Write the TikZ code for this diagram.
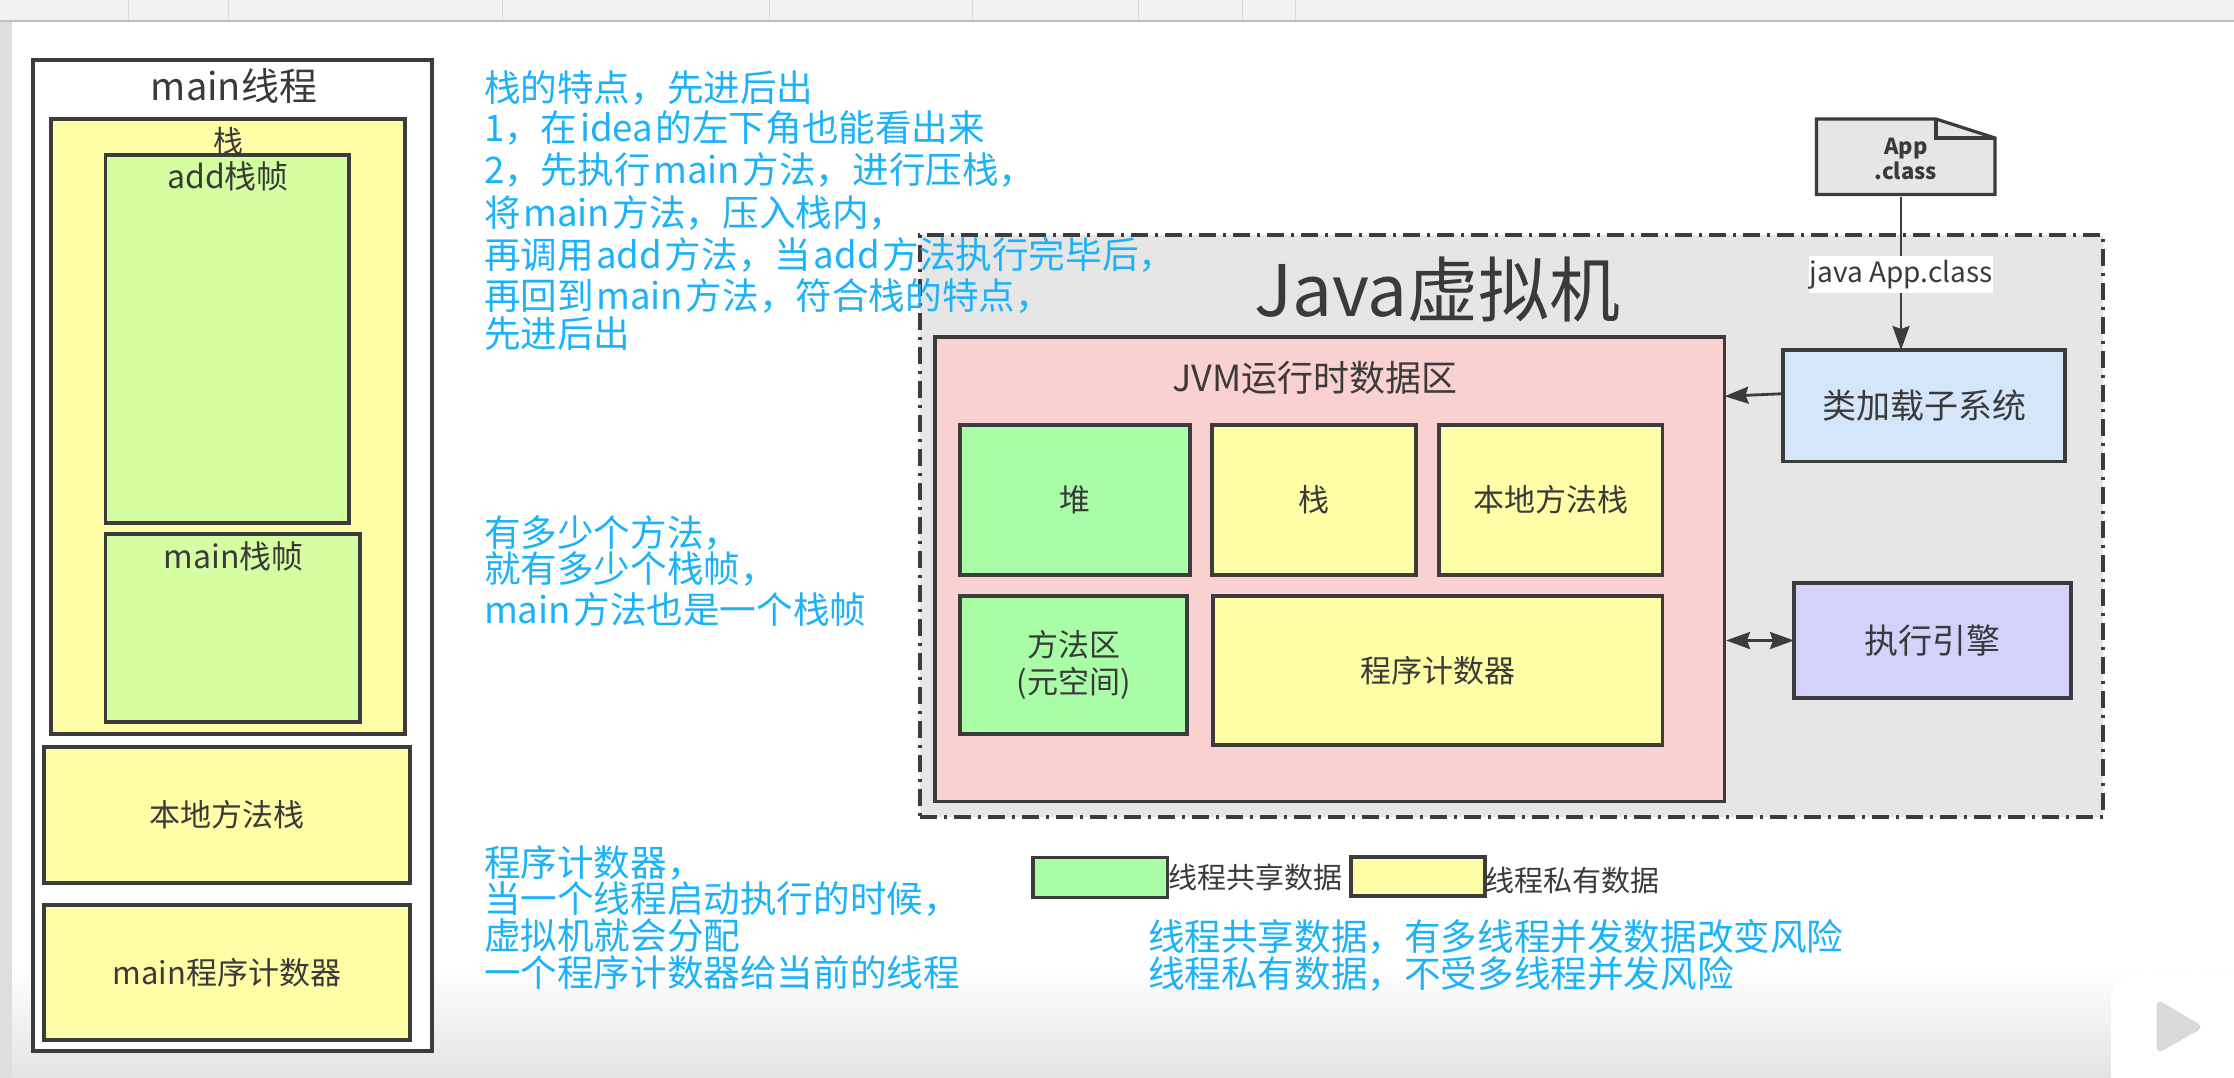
\documentclass[tikz,border=0pt]{standalone}
\usepackage{fontspec}
\setmainfont{Noto Sans CJK SC}
\usetikzlibrary{arrows.meta}
\definecolor{blueink}{HTML}{1CB2FA}
\definecolor{darkline}{HTML}{3C3C3C}
\definecolor{darktext}{HTML}{3A3A3A}
\definecolor{yellowfill}{HTML}{FFFDA6}
\definecolor{greenfill}{HTML}{A9FDA6}
\definecolor{limefill}{HTML}{D5FEA2}
\definecolor{redfill}{HTML}{F9D1D0}
\definecolor{greyfill}{HTML}{E6E6E6}
\definecolor{bluefill}{HTML}{D5E6FB}
\definecolor{purplefill}{HTML}{D2D2FA}
\definecolor{barfill}{HTML}{F2F2F2}
\newcommand{\mybox}[7]{%
  \pgfmathsetmacro\myw{#4-#2}\pgfmathsetmacro\myh{#5-#3}%
  \pgfmathsetmacro\mycx{(#2+#4)/2}\pgfmathsetmacro\mycy{(#3+#5)/2}%
  \node[#6,minimum width=\myw pt,minimum height=\myh pt] (#1) at (\mycx,\mycy) {#7};}
\tikzset{
  fs/.style={font=\fontsize{#1pt}{#1pt}\selectfont},
  boxed/.style={draw=darkline,line width=3.4pt,inner sep=0pt,outer sep=0pt,text=darktext,align=center},
  yel/.style={boxed,fill=yellowfill,fs=31},
  grn/.style={boxed,fill=greenfill,fs=31},
  lbl/.style={inner sep=0pt,outer sep=0pt,text=darktext},
  note/.style={inner sep=0pt,outer sep=0pt,anchor=west,text=blueink,fs=36.6},
  conn/.style={draw=darkline,line width=2.8pt},
}
\newcommand{\gapp}{\hspace{.07em}}
\begin{document}
\begin{tikzpicture}[x=1pt,y=-1pt]
\useasboundingbox (0,0) rectangle (2234,1078);
% window chrome
\fill[white] (0,0) rectangle (2234,1078);
\shade[top color=white,bottom color=black!11] (0,965) rectangle (2234,1078);
\fill[barfill] (0,0) rectangle (2234,20);
\draw[black!25,line width=2pt] (0,21) -- (2234,21);
\fill[black!13] (0,22) rectangle (12,1078);
\foreach \tx in {128,228,502,769,972,1138,1242,1295}
  \draw[black!15,line width=1pt] (\tx,0) -- (\tx,20);

% main thread column
\mybox{thread}{33}{60}{432}{1051}{boxed,fill=white}{}
\mybox{stackbg}{51}{119}{405}{734}{boxed,fill=yellowfill}{}
\mybox{addf}{105.5}{155}{349}{523}{boxed,fill=limefill}{}
\mybox{mainf}{105.5}{534}{360}{722}{boxed,fill=limefill}{}
\mybox{nativeL}{44}{747}{410}{883}{yel}{本地方法栈}
\mybox{pcL}{44}{905}{410}{1040}{yel}{main程序计数器}
\node[lbl,fs=38] (threadT) at (234,86) {main线程};
\node[lbl,fs=30] (stackT) at (228,141) {栈};
\node[lbl,fs=32] (addT) at (228,176) {add栈帧};
\node[lbl,fs=32] (mainT) at (233.6,556) {main栈帧};

% JVM
\mybox{jvm}{920}{235}{2103}{817}{draw=darkline,line width=3.2pt,fill=greyfill,dash pattern=on 17pt off 7pt on 3pt off 7pt,inner sep=0pt}{}
\node[lbl,fs=71] (jvmT) at (1437.5,290) {Java虚拟机};
\mybox{rda}{935}{337}{1724.5}{801.5}{boxed,fill=redfill}{}
\node[lbl,fs=36] (rdaT) at (1315,378) {JVM运行时数据区};
\mybox{heap}{960}{425}{1190}{575}{grn}{堆}
\mybox{stackR}{1212}{425}{1416}{575}{yel}{栈}
\mybox{nativeR}{1439}{425}{1662.6}{575}{yel}{本地方法栈}
\mybox{method}{960}{596}{1187}{734}{grn,font=\fontsize{31pt}{37pt}\selectfont}{方法区\\(元空间)}
\mybox{pcR}{1213}{596}{1662.6}{745}{yel}{程序计数器}
\mybox{loader}{1783}{350}{2065}{461.4}{boxed,fill=bluefill,fs=34}{类加载子系统}
\mybox{engine}{1794}{583}{2071}{698}{boxed,fill=purplefill,fs=34}{执行引擎}

% file
\draw[draw=darkline,line width=3.2pt,fill=greyfill,line join=miter]
  (1816.5,119) -- (1936,119) -- (1995,138) -- (1995,194.5) -- (1816.5,194.5) -- cycle;
\draw[draw=darkline,line width=3.2pt] (1936,119) -- (1936,138) -- (1995,138);
\node[lbl,align=center,font=\bfseries\fontsize{22pt}{25pt}\selectfont,minimum width=178.5pt,minimum height=75.5pt] (app) at (1905.75,159) {App\\.class};

% connectors
\node[inner sep=0pt,outer sep=0pt,fill=white,text=darktext,fs=28,minimum width=184pt,minimum height=37pt] (cmd) at (1901,274.5) {java App.class};
\draw[conn] ([xshift=-4.75pt]app.south) -- (cmd.north);
\draw[conn,-{Stealth[length=24pt,width=17pt,inset=3pt]}] (cmd.south) -- ([xshift=-23pt]loader.north);
\draw[conn,-{Stealth[length=24pt,width=17pt,inset=3pt]}] ([yshift=12pt]loader.west) -- ([yshift=173pt]rda.east);
\draw[conn,{Stealth[length=24pt,width=17pt,inset=3pt]}-{Stealth[length=24pt,width=17pt,inset=3pt]}] ([xshift=1.5pt]rda.east |- engine.west) -- (engine.west);

% legend
\mybox{legG}{1033}{857.4}{1167.6}{897.6}{boxed,fill=greenfill}{}
\node[lbl,anchor=west,fs=29] (legGT) at (1168,877) {线程共享数据};
\mybox{legY}{1351}{857}{1485}{896}{boxed,fill=yellowfill}{}
\node[lbl,anchor=west,fs=29] (legYT) at (1485,880) {线程私有数据};

% notes
\node[note] (n1) at (484,88) {栈的特点，先进后出};
\node[note] (n2) at (484,128) {1，在\gapp idea\gapp 的左下角也能看出来};
\node[note] (n3) at (484,170) {2，先执行\gapp main\gapp 方法，进行压栈，};
\node[note] (n4) at (484,212.5) {将\gapp main\gapp 方法，压入栈内，};
\node[note] (n5) at (484,255) {再调用\gapp add\gapp 方法，当\gapp add\gapp 方法执行完毕后，};
\node[note] (n6) at (484,296) {再回到\gapp main\gapp 方法，符合栈的特点，};
\node[note] (n7) at (484,334) {先进后出};
\node[note] (n8) at (484,533) {有多少个方法，};
\node[note] (n9) at (484,569) {就有多少个栈帧，};
\node[note] (n10) at (484,610) {main\gapp 方法也是一个栈帧};
\node[note] (n11) at (484,862.6) {程序计数器，};
\node[note] (n12) at (484,898.6) {当一个线程启动执行的时候，};
\node[note] (n13) at (484,936) {虚拟机就会分配};
\node[note] (n14) at (484,973) {一个程序计数器给当前的线程};
\node[note] (n15) at (1148,937) {线程共享数据，有多线程并发数据改变风险};
\node[note] (n16) at (1148,974) {线程私有数据，不受多线程并发风险};

% player badge
\draw[white,line width=10pt,line cap=round] (2153,975) -- (2146,957);
\draw[white,line width=10pt,line cap=round] (2196,975) -- (2203,957);
\fill[white,rounded corners=28pt] (2260,972) -- (2111,972) -- (2111,1110) -- (2260,1110) -- cycle;
\fill[black!15,draw=black!15,line width=7pt,line join=round] (2160,1005) -- (2197,1027) -- (2160,1048) -- cycle;
\end{tikzpicture}
\end{document}
